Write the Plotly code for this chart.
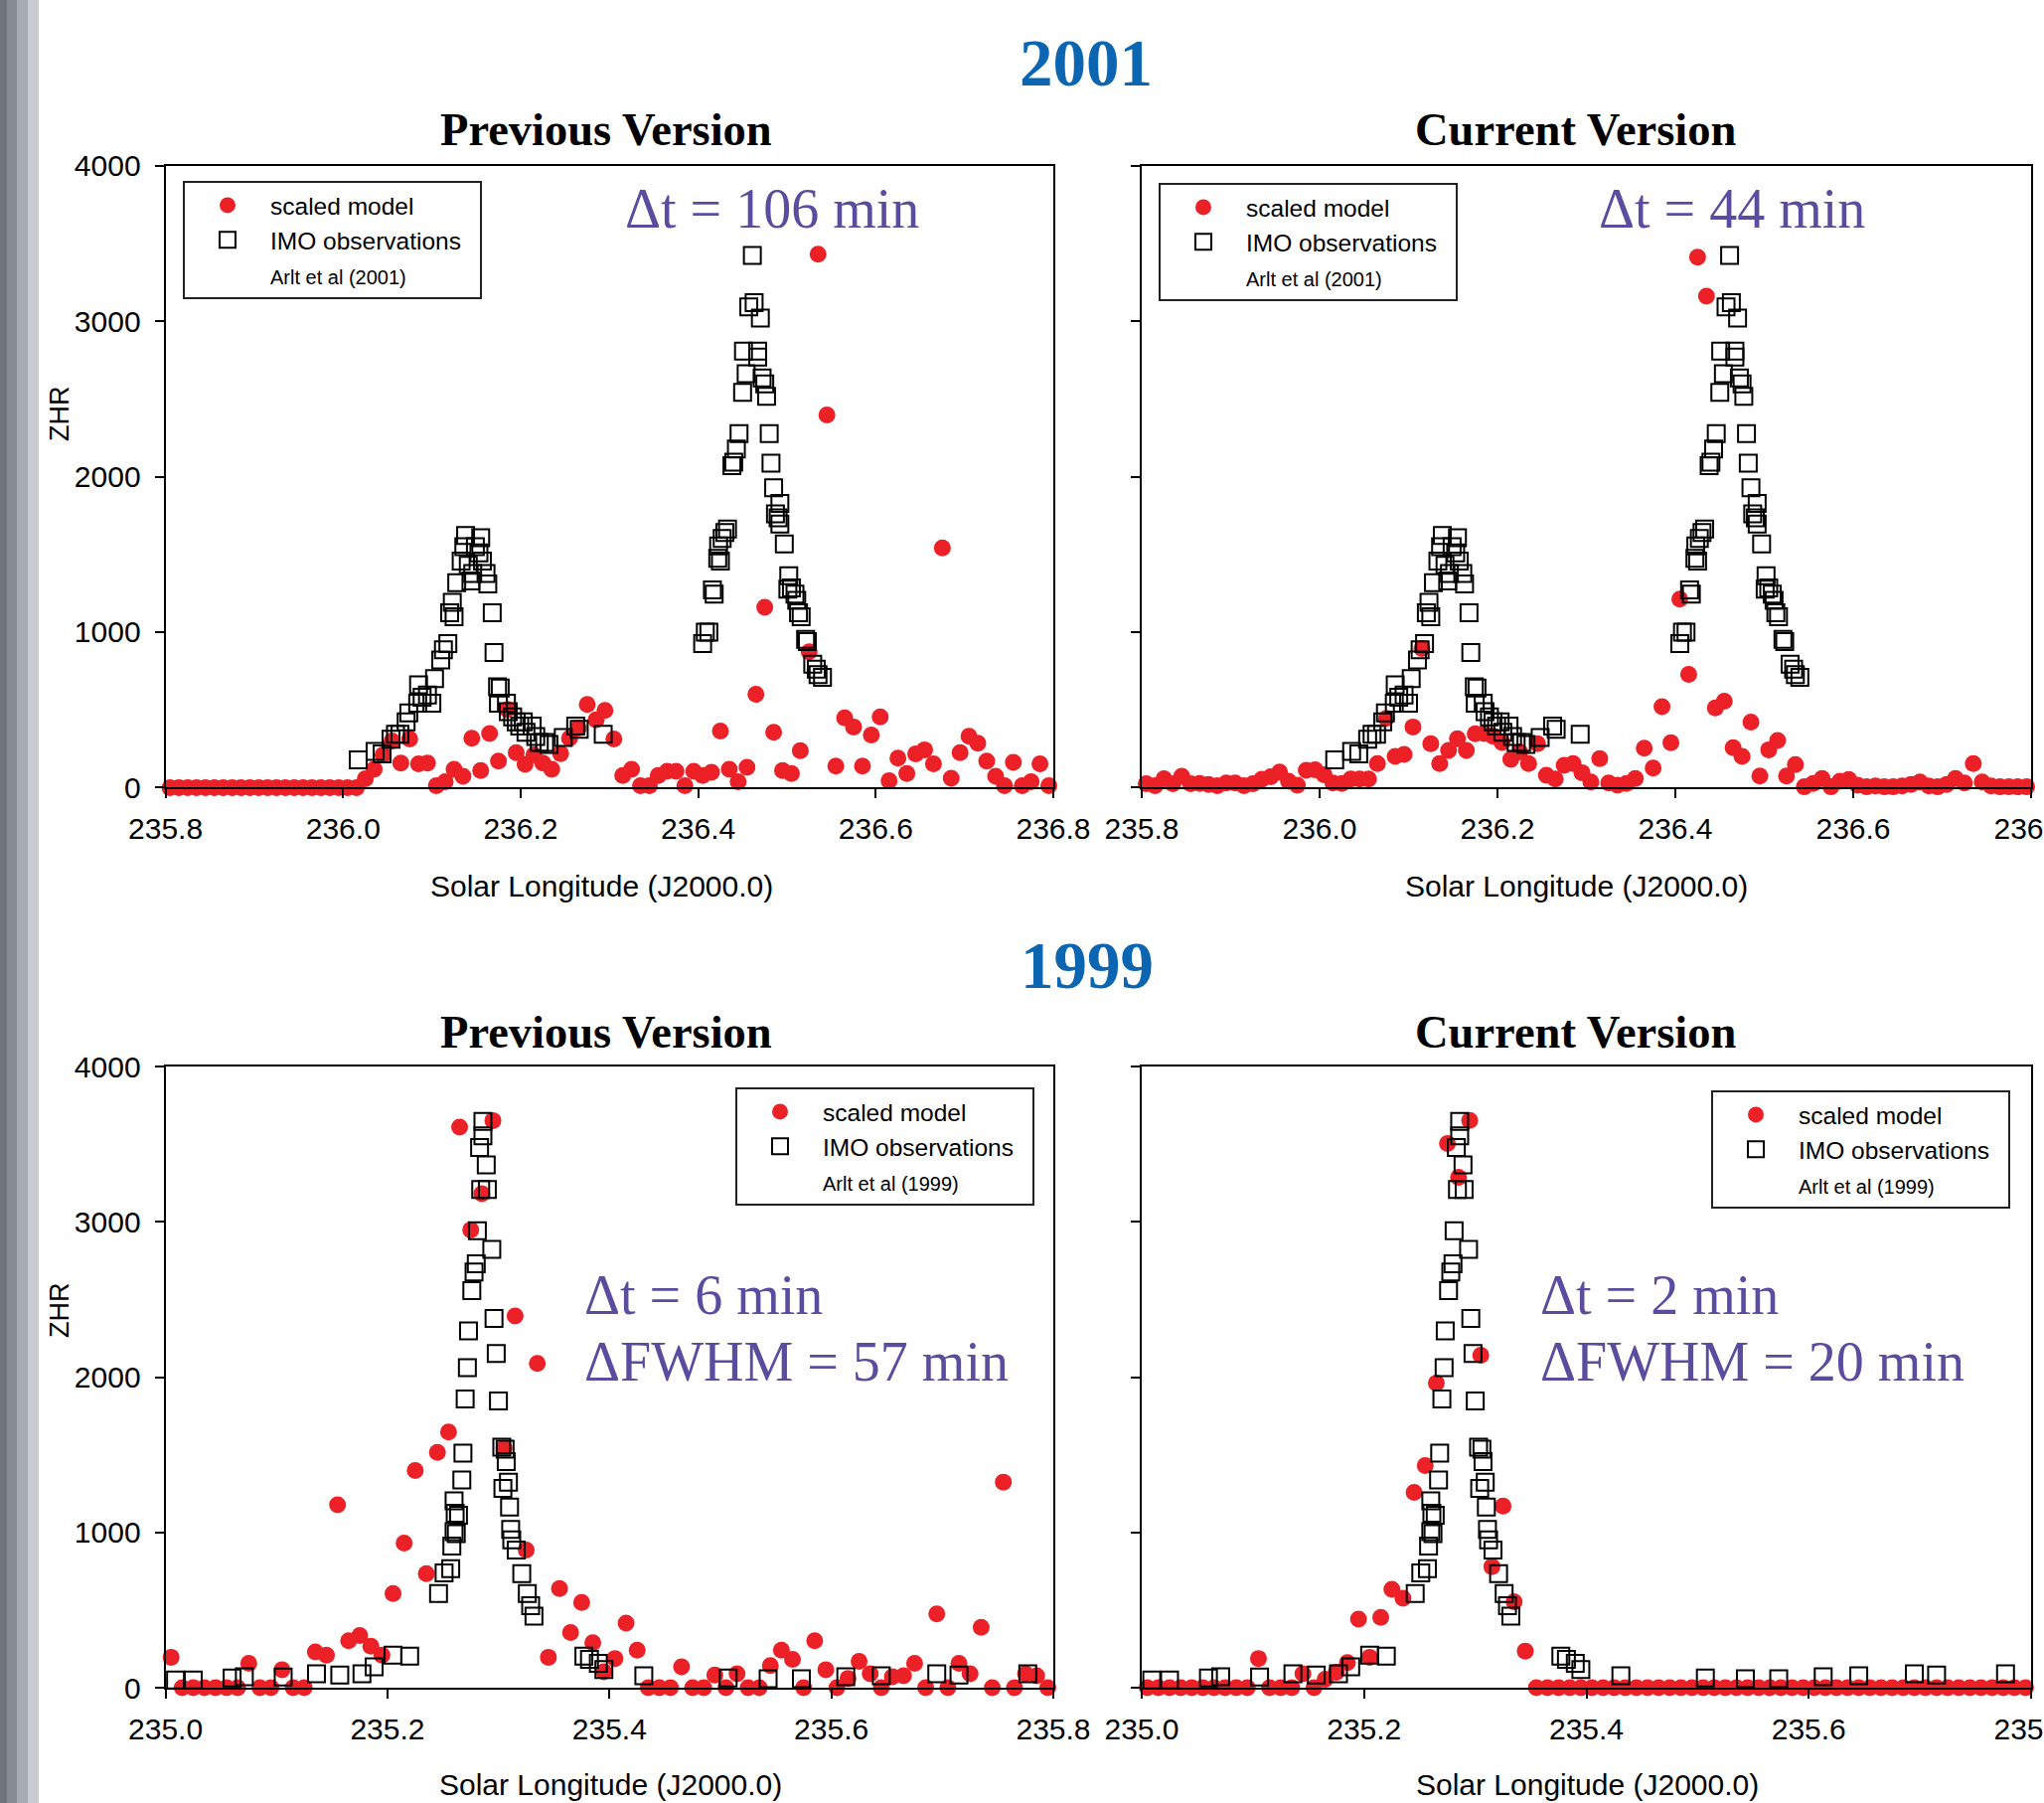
import plotly.graph_objects as go

W, H = 2057, 1814

# ---------------- data ----------------
# model sampling (solar longitude, deg) for the 2001 panels
lam_model_2001 = [
    235.805, 235.815, 235.825, 235.835, 235.845, 235.855, 235.865, 235.875, 235.885, 235.895,
    235.905, 235.915, 235.925, 235.935, 235.945, 235.955, 235.965, 235.975, 235.985, 235.995,
    236.005, 236.015, 236.025, 236.035, 236.045, 236.055, 236.065, 236.075, 236.085, 236.095,
    236.105, 236.115, 236.125, 236.135, 236.145, 236.155, 236.165, 236.175, 236.185, 236.195,
    236.205, 236.215, 236.225, 236.235, 236.245, 236.255, 236.265, 236.275, 236.285, 236.295,
    236.305, 236.315, 236.325, 236.335, 236.345, 236.355, 236.365, 236.375, 236.385, 236.395,
    236.405, 236.415, 236.425, 236.435, 236.445, 236.455, 236.465, 236.475, 236.485, 236.495,
    236.505, 236.515, 236.525, 236.535, 236.545, 236.555, 236.565, 236.575, 236.585, 236.595,
    236.605, 236.615, 236.625, 236.635, 236.645, 236.655, 236.665, 236.675, 236.685, 236.695,
    236.705, 236.715, 236.725, 236.735, 236.745, 236.755, 236.765, 236.775, 236.785, 236.795,
]
zhr_prev_2001 = [
    0, 0, 0, 0, 0, 0, 0, 0, 0, 0,
    0, 0, 0, 0, 0, 0, 0, 0, 0, 0,
    0, 0, 57, 118, 211, 300, 158, 312, 153, 158,
    12, 38, 118, 73, 317, 110, 348, 171, 502, 224,
    150, 211, 158, 118, 219, 317, 383, 534, 436, 497,
    312, 78, 118, 12, 12, 78, 105, 105, 12, 105,
    78, 98, 364, 118, 38, 131, 600, 1159, 356, 110,
    91, 237, 873, 3430, 2397, 138, 449, 390, 138, 338,
    455, 44, 190, 91, 216, 243, 153, 1541, 60, 224,
    330, 285, 171, 73, 12, 163, 12, 38, 153, 12,
]
zhr_curr_2001 = [
    25, 12, 57, 25, 73, 25, 26, 20, 12, 30,
    30, 12, 25, 54, 70, 100, 41, 15, 111, 115,
    83, 30, 26, 55, 55, 55, 154, 445, 200, 213,
    390, 894, 282, 154, 239, 314, 239, 346, 348, 330,
    290, 181, 230, 154, 282, 79, 55, 143, 154, 96,
    36, 186, 30, 15, 26, 58, 254, 126, 520, 288,
    1212, 728, 3411, 3160, 513, 556, 256, 200, 421, 75,
    243, 303, 75, 148, 5, 26, 58, 5, 41, 52,
    15, 5, 10, 5, 5, 10, 20, 36, 10, 5,
    20, 58, 30, 154, 36, 10, 5, 5, 5, 5,
]
# IMO observations 2001 (Arlt et al 2001)
lam_obs_2001 = [
    236.017, 236.036, 236.044, 236.054, 236.059, 236.064, 236.071, 236.074, 236.084, 236.085,
    236.089, 236.095, 236.100, 236.103, 236.110, 236.113, 236.118, 236.120, 236.123, 236.125,
    236.128, 236.133, 236.136, 236.138, 236.141, 236.144, 236.146, 236.149, 236.153, 236.155,
    236.157, 236.161, 236.163, 236.168, 236.170, 236.174, 236.177, 236.175, 236.184, 236.186,
    236.191, 236.195, 236.199, 236.203, 236.206, 236.213, 236.217, 236.221, 236.227, 236.232,
    236.248, 236.262, 236.266, 236.293,
    236.405, 236.408, 236.412, 236.416, 236.418, 236.422, 236.425, 236.423, 236.427, 236.430,
    236.433, 236.438, 236.440, 236.443, 236.446, 236.450, 236.454, 236.451, 236.457, 236.463,
    236.461, 236.470, 236.467, 236.467, 236.472, 236.475, 236.477, 236.480, 236.482, 236.485,
    236.492, 236.487, 236.490, 236.492, 236.497, 236.502, 236.501, 236.505, 236.509, 236.511,
    236.513, 236.516, 236.521, 236.523, 236.529, 236.533, 236.535, 236.540,
]
zhr_obs_2001 = [
    179, 232, 216, 311, 343, 343, 423, 481, 542, 661,
    581, 595, 542, 701, 820, 886, 926, 1125, 1191, 1098,
    1318, 1456, 1549, 1621, 1430, 1329, 1377, 1549, 1509, 1607,
    1456, 1377, 1310, 1125, 868, 648, 640, 542, 542, 489,
    455, 423, 396, 423, 356, 396, 329, 290, 290, 277,
    322, 396, 375, 343,
    926, 1000, 1000, 1271, 1244, 1475, 1456, 1554, 1602, 1641,
    1663, 2071, 2092, 2177, 2277, 2542, 2661, 2807, 3091, 3118,
    3422, 3019, 2807, 2768, 2635, 2596, 2516, 2277, 2087, 1928,
    1827, 1761, 1735, 1695, 1567, 1363, 1276, 1284, 1244, 1204,
    1125, 1098, 953, 939, 794, 762, 727, 709,
]

# model sampling for the 1999 panels
lam_model_1999 = [
    235.005, 235.015, 235.025, 235.035, 235.045, 235.055, 235.065, 235.075, 235.085, 235.095,
    235.105, 235.115, 235.125, 235.135, 235.145, 235.155, 235.165, 235.175, 235.185, 235.195,
    235.205, 235.215, 235.225, 235.235, 235.245, 235.255, 235.265, 235.275, 235.285, 235.295,
    235.305, 235.315, 235.325, 235.335, 235.345, 235.355, 235.365, 235.375, 235.385, 235.395,
    235.405, 235.415, 235.425, 235.435, 235.445, 235.455, 235.465, 235.475, 235.485, 235.495,
    235.505, 235.515, 235.525, 235.535, 235.545, 235.555, 235.565, 235.575, 235.585, 235.595,
    235.605, 235.615, 235.625, 235.635, 235.645, 235.655, 235.665, 235.675, 235.685, 235.695,
    235.705, 235.715, 235.725, 235.735, 235.745, 235.755, 235.765, 235.775, 235.785, 235.795,
]
zhr_prev_1999 = [
    196, 0, 0, 0, 0, 0, 0, 157, 0, 0,
    116, 0, 0, 230, 209, 1177, 302, 336, 267, 209,
    607, 931, 1398, 735, 1515, 1647, 3610, 2948, 3181, 3652,
    1542, 2393, 886, 2088, 196, 639, 355, 549, 289, 103,
    188, 416, 241, 0, 0, 0, 135, 0, 0, 82,
    0, 90, 0, 0, 143, 241, 183, 0, 302, 116,
    0, 60, 170, 90, 0, 71, 77, 157, 0, 475,
    0, 157, 90, 389, 0, 1324, 0, 90, 77, 0,
]
zhr_curr_1999 = [
    0, 0, 0, 0, 0, 0, 0, 0, 0, 0,
    188, 0, 0, 0, 90, 0, 55, 100, 162, 442,
    196, 453, 634, 576, 1257, 1430, 1961, 3504, 3287, 3653,
    2141, 780, 1170, 554, 236, 0, 0, 0, 0, 0,
    0, 0, 0, 0, 0, 0, 0, 0, 0, 0,
    0, 0, 0, 0, 0, 0, 0, 0, 0, 0,
    0, 0, 0, 0, 0, 0, 0, 0, 0, 0,
    0, 0, 0, 0, 0, 0, 0, 0, 0, 0,
]
# IMO observations 1999 (Arlt et al 1999)
lam_obs_1999 = [
    235.009, 235.025, 235.060, 235.071, 235.106, 235.136, 235.157, 235.177, 235.188, 235.205,
    235.220, 235.246, 235.251, 235.257, 235.258, 235.260, 235.262, 235.261, 235.260, 235.264,
    235.267, 235.268, 235.270, 235.272, 235.273, 235.276, 235.278, 235.280, 235.281, 235.283,
    235.284, 235.286, 235.286, 235.289, 235.290, 235.294, 235.296, 235.298, 235.300, 235.303,
    235.306, 235.307, 235.309, 235.304, 235.310, 235.311, 235.312, 235.316, 235.321, 235.326,
    235.329, 235.332, 235.377, 235.382, 235.390, 235.395, 235.431, 235.507, 235.543, 235.573,
    235.613, 235.645, 235.695, 235.715, 235.777,
]
zhr_obs_1999 = [
    50, 50, 63, 71, 69, 90, 82, 90, 135, 209,
    204, 607, 740, 767, 912, 1005, 992, 1124, 1204, 1111,
    1337, 1510, 1860, 2061, 2297, 2557, 2677, 2730, 2942, 3478,
    3208, 3646, 3554, 3367, 3208, 2823, 2377, 2152, 1847, 1549,
    1536, 1456, 1324, 1284, 1164, 1019, 952, 886, 735, 607,
    528, 461, 204, 183, 157, 117, 77, 63, 58, 58,
    71, 77, 90, 82, 90,
]

y_ticks = [0, 1000, 2000, 3000, 4000]
x_ticks_2001 = [235.8, 236.0, 236.2, 236.4, 236.6, 236.8]
x_ticks_1999 = [235.0, 235.2, 235.4, 235.6, 235.8]

# ---------------- style ----------------
RED = "#ec2027"
PURPLE = "#5a4d9f"
BLUE = "#0b65b0"
SANS = "Liberation Sans, Arial, sans-serif"
SERIF = "Liberation Serif, Times New Roman, serif"
NB = "\u00a0"


def px(xp):
    return xp / W


def py(yp):
    return 1 - yp / H


fig = go.Figure()

panels = [
    ("", "legend", lam_model_2001, zhr_prev_2001, lam_obs_2001, zhr_obs_2001, "Arlt et al (2001)"),
    ("2", "legend2", lam_model_2001, zhr_curr_2001, lam_obs_2001, zhr_obs_2001, "Arlt et al (2001)"),
    ("3", "legend3", lam_model_1999, zhr_prev_1999, lam_obs_1999, zhr_obs_1999, "Arlt et al (1999)"),
    ("4", "legend4", lam_model_1999, zhr_curr_1999, lam_obs_1999, zhr_obs_1999, "Arlt et al (1999)"),
]

for suf, leg, lm, zm, lo, zo, ref in panels:
    xa, ya = "x" + suf, "y" + suf
    fig.add_trace(go.Scatter(
        x=lm, y=zm, mode="markers", name="scaled model", legend=leg,
        xaxis=xa, yaxis=ya, cliponaxis=False,
        marker=dict(symbol="circle", size=17, color=RED, line=dict(width=0)),
    ))
    fig.add_trace(go.Scatter(
        x=lo, y=zo, mode="markers", name="IMO observations" + NB * 2, legend=leg,
        xaxis=xa, yaxis=ya, cliponaxis=False,
        marker=dict(symbol="square-open", size=17, color="black", line=dict(width=2)),
    ))
    fig.add_trace(go.Scatter(
        x=[None], y=[None], mode="markers",
        name="<span style='font-size:20px'>" + ref + "</span>", legend=leg,
        xaxis=xa, yaxis=ya,
        marker=dict(symbol="circle", size=2, color="rgba(0,0,0,0)"),
    ))

axis_common = dict(
    showline=True, linecolor="black", linewidth=2, mirror=True,
    ticks="outside", ticklen=9, tickwidth=2, tickcolor="black",
    showgrid=False, zeroline=False, automargin=False,
    tickfont=dict(family=SANS, size=30, color="black"),
    ticklabeloverflow="allow",
)

xdom_l = [px(166.6), px(1060)]
xdom_r = [px(1149), px(2044)]
ydom_t = [py(792.4), py(166.6)]
ydom_b = [py(1698), py(1073)]

XS = 5   # x tick-label standoff
YS = 8   # y tick-label standoff

fig.update_layout(
    xaxis=dict(axis_common, domain=xdom_l, anchor="y", range=[235.8, 236.8],
               tickvals=x_ticks_2001, tickformat=".1f", ticklabelstandoff=XS),
    yaxis=dict(axis_common, domain=ydom_t, anchor="x", range=[0, 4000],
               tickvals=y_ticks, ticklabelstandoff=YS),
    xaxis2=dict(axis_common, domain=xdom_r, anchor="y2", range=[235.8, 236.8],
                tickvals=x_ticks_2001, tickformat=".1f", ticklabelstandoff=XS),
    yaxis2=dict(axis_common, domain=ydom_t, anchor="x2", range=[0, 4000],
                tickvals=y_ticks, showticklabels=False),
    xaxis3=dict(axis_common, domain=xdom_l, anchor="y3", range=[235.0, 235.8],
                tickvals=x_ticks_1999, tickformat=".1f", ticklabelstandoff=XS),
    yaxis3=dict(axis_common, domain=ydom_b, anchor="x3", range=[0, 4000],
                tickvals=y_ticks, ticklabelstandoff=YS),
    xaxis4=dict(axis_common, domain=xdom_r, anchor="y4", range=[235.0, 235.8],
                tickvals=x_ticks_1999, tickformat=".1f", ticklabelstandoff=XS),
    yaxis4=dict(axis_common, domain=ydom_b, anchor="x4", range=[0, 4000],
                tickvals=y_ticks, showticklabels=False),
)

legend_common = dict(
    xanchor="left", yanchor="top", bgcolor="white",
    bordercolor="#222222", borderwidth=2,
    font=dict(family=SANS, size=24.5, color="black"),
    itemwidth=76, tracegroupgap=0,
)
fig.update_layout(
    legend=dict(legend_common, x=px(184), y=py(182)),
    legend2=dict(legend_common, x=px(1166), y=py(184)),
    legend3=dict(legend_common, x=px(740), y=py(1094)),
    legend4=dict(legend_common, x=px(1722), y=py(1097)),
)

annotations = []


def ann(text, cx, cy, size, color, family, xanchor="center", weight="normal", angle=0):
    annotations.append(dict(
        text=text, x=px(cx), y=py(cy), xref="paper", yref="paper",
        showarrow=False, xanchor=xanchor, yanchor="middle", textangle=angle,
        font=dict(family=family, size=size, color=color, weight=weight),
    ))


ann("2001", 1093, 63, 67, BLUE, SERIF, weight="bold")
ann("1999", 1094, 971, 67, BLUE, SERIF, weight="bold")
ann("Previous Version", 610, 131, 46.5, "black", SERIF, weight="bold")
ann("Current Version", 1586, 131, 46.5, "black", SERIF, weight="bold")
ann("Previous Version", 610, 1038, 46.5, "black", SERIF, weight="bold")
ann("Current Version", 1586, 1038, 46.5, "black", SERIF, weight="bold")

ann("Δt = 106 min", 777, 210, 56, PURPLE, SERIF)
ann("Δt = 44 min", 1743, 210, 56, PURPLE, SERIF)
ann("Δt = 6 min", 586, 1303, 56, PURPLE, SERIF, xanchor="left")
ann("ΔFWHM = 57 min", 586, 1370, 56, PURPLE, SERIF, xanchor="left")
ann("Δt = 2 min", 1548, 1303, 56, PURPLE, SERIF, xanchor="left")
ann("ΔFWHM = 20 min", 1548, 1370, 56, PURPLE, SERIF, xanchor="left")

ann("ZHR", 60, 416, 27, "black", SANS, angle=-90)
ann("ZHR", 60, 1318, 27, "black", SANS, angle=-90)
ann("Solar Longitude (J2000.0)", 605, 891, 30, "black", SANS)
ann("Solar Longitude (J2000.0)", 1587, 891, 30, "black", SANS)
ann("Solar Longitude (J2000.0)", 614, 1795, 30, "black", SANS)
ann("Solar Longitude (J2000.0)", 1597, 1795, 30, "black", SANS)

# decorative grey stripe on the left edge
stripes = [(0, 7, "#70757d"), (7, 17, "#878c94"), (17, 28, "#a7abb3"), (28, 39, "#c8cbd2")]
shapes = [dict(type="rect", xref="paper", yref="paper", x0=px(a), x1=px(b), y0=0, y1=1,
               fillcolor=c, line=dict(width=0), layer="below") for a, b, c in stripes]

fig.update_layout(
    width=W, height=H, autosize=False,
    margin=dict(l=0, r=0, t=0, b=0, pad=0, autoexpand=False),
    paper_bgcolor="white", plot_bgcolor="white",
    annotations=annotations, shapes=shapes,
    showlegend=True,
)

fig.write_html(
    "out.html",
    config={"displayModeBar": False},
    post_script="document.body.style.margin='0px';document.body.style.padding='0px';"
                "document.body.style.overflow='hidden';",
)
